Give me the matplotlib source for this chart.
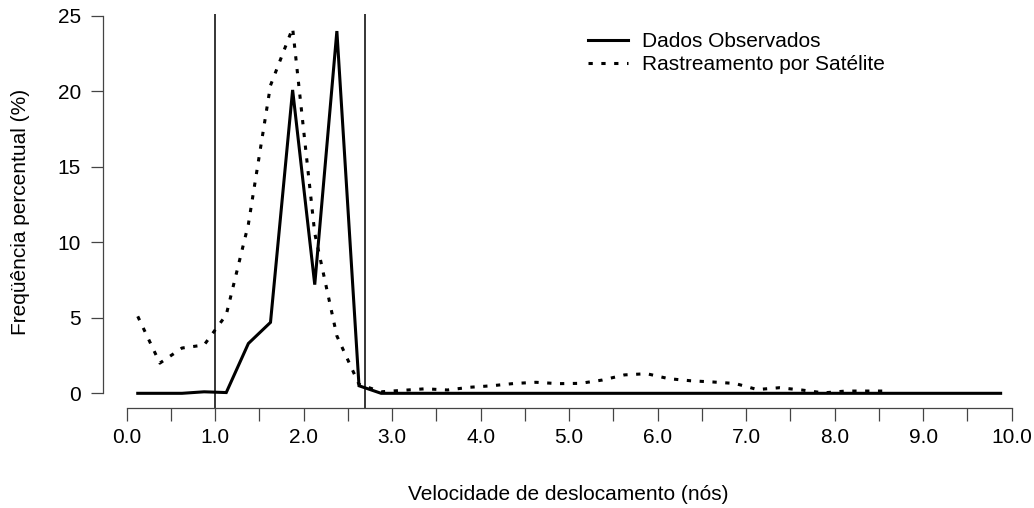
import numpy as np
import matplotlib
matplotlib.use("Agg")
import matplotlib.pyplot as plt
from matplotlib.lines import Line2D

# velocity classes (knots), centre of each 0.25 bin
velocidade = np.arange(40) * 0.25 + 0.125

observados = [0, 0, 0, 0.1, 0.05, 3.3, 4.7, 20.1, 7.2, 24.0,
              0.5, 0, 0, 0, 0, 0, 0, 0, 0, 0,
              0, 0, 0, 0, 0, 0, 0, 0, 0, 0,
              0, 0, 0, 0, 0, 0, 0, 0, 0, 0]

# satellite series stops at ~8.6 knots
satelite = [5.1, 2.0, 3.0, 3.2, 5.2, 11.2, 20.4, 24.2, 10.6, 3.8,
            0.6, 0.1, 0.2, 0.3, 0.22, 0.4, 0.5, 0.65, 0.73, 0.64,
            0.66, 0.88, 1.22, 1.3, 0.97, 0.83, 0.75, 0.65, 0.25, 0.37,
            0.22, 0.03, 0.15, 0.15, 0.15]

limites = [1.0, 2.69]

x_ticks = np.arange(0, 10.01, 1.0)
x_labels = ["{:.1f}".format(v) for v in x_ticks]
y_ticks = [0, 5, 10, 15, 20, 25]

plt.rcParams['font.family'] = ['Liberation Sans', 'DejaVu Sans']

W, H = 1034, 508
fig = plt.figure(figsize=(W / 100, H / 100), dpi=100)
left, right, top, bottom = 102.7, 1034, 14, 407.5
ax = fig.add_axes([left / W, 1 - bottom / H, (right - left) / W, (bottom - top) / H])

ax.plot(velocidade, observados, color="black", lw=2.2, solid_joinstyle="miter",
        label="Dados Observados")
ax.plot(velocidade[:len(satelite)], satelite, color="black", lw=2.2, dashes=(1.4, 2.8),
        dash_capstyle="butt", label="Rastreamento por Satélite")
for v in limites:
    ax.axvline(v, color="black", lw=1.1)

ax.set_xlim(-0.271, 10.252)
ax.set_ylim(-0.94, 25.13)

for s in ["top", "right"]:
    ax.spines[s].set_visible(False)
ax.spines["left"].set_bounds(0, 25)
ax.spines["bottom"].set_bounds(0, 10)
for s in ["left", "bottom"]:
    ax.spines[s].set_color("#444444")
    ax.spines[s].set_linewidth(0.9)

ax.set_xticks(x_ticks)
ax.set_xticklabels(x_labels)
ax.set_xticks(np.arange(0.5, 10, 1.0), minor=True)
ax.set_yticks(y_ticks)
ax.tick_params(axis="x", which="both", length=9.6, width=0.9, color="#444444",
               labelsize=15, pad=5)
ax.tick_params(axis="y", length=8.6, width=0.9, color="#444444", labelsize=15, pad=7)

fig.text((left + right) / 2 / W, 1 - 495 / H, "Velocidade de deslocamento (nós)",
         ha="center", va="center", fontsize=15)
fig.text(21 / W, 1 - 212 / H, "Freqüência percentual (%)", rotation=90,
         ha="center", va="center", fontsize=15)

handles = [Line2D([], [], color="black", lw=2.2),
           Line2D([], [], color="black", lw=2.2, dashes=(1.4, 2.8), dash_capstyle="butt")]
ax.legend(handles, ["Dados Observados", "Rastreamento por Satélite"],
          loc="upper left", bbox_to_anchor=(588 / W, 1 - 32 / H),
          bbox_transform=fig.transFigure, frameon=False, fontsize=15,
          borderpad=0, borderaxespad=0, handlelength=1.9, handletextpad=0.7,
          labelspacing=0.2)

fig.savefig("out.png", dpi=100)
